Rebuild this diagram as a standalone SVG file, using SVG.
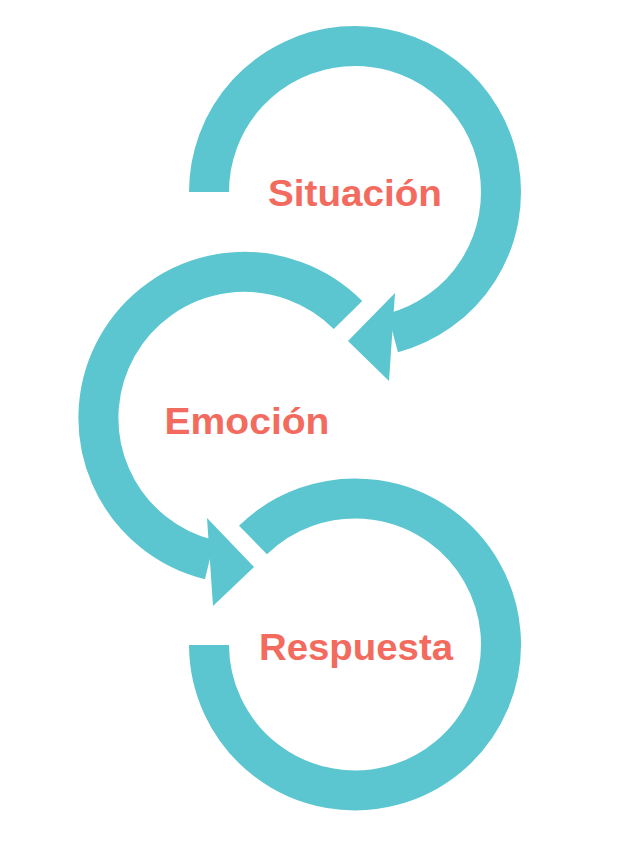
<svg xmlns="http://www.w3.org/2000/svg" width="640" height="862" viewBox="0 0 640 862">
<style>
.arc{fill:none;stroke:#5BC6D0;stroke-width:40}
.head{fill:#5BC6D0}
.lbl{font-family:"Liberation Sans",Arial,sans-serif;font-weight:bold;font-size:37px;fill:#F26B5E;text-anchor:middle}
</style>
<rect width="640" height="862" fill="#fff"/>
<g id="connectors">
<path class="arc" d="M209,192 A146,146 0 1 1 392.8,333"/>
<polygon class="head" points="395,293 348,341 389,381"/>
<path class="arc" d="M348,315 A146,146 0 1 0 209.7,559.7"/>
<polygon class="head" points="207,518 254,567 213,606"/>
<path class="arc" d="M253,540 A146,146 0 1 1 209,645"/>
</g>
<g id="situacion"><text class="lbl" x="355" y="206" textLength="174" lengthAdjust="spacingAndGlyphs">Situación</text></g>
<g id="emocion"><text class="lbl" x="247" y="434" textLength="165" lengthAdjust="spacingAndGlyphs">Emoción</text></g>
<g id="respuesta"><text class="lbl" x="356" y="660" textLength="194" lengthAdjust="spacingAndGlyphs">Respuesta</text></g>
</svg>
